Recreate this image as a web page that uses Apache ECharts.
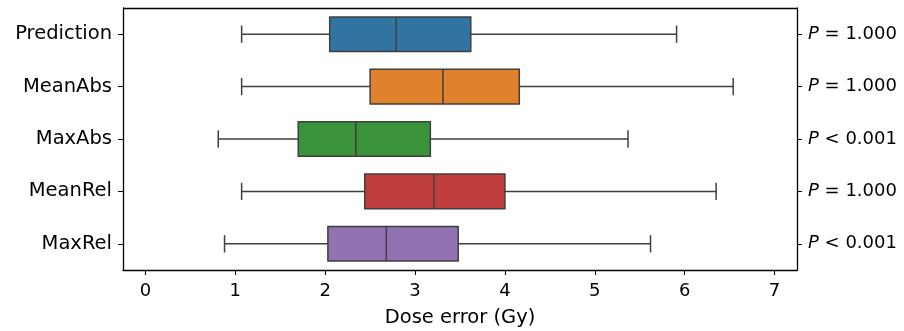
<!DOCTYPE html>
<html>
<head>
<meta charset="utf-8">
<script src="https://cdn.jsdelivr.net/npm/echarts@6/dist/echarts.min.js"></script>
<style>
html,body{margin:0;padding:0;background:#fff;}
#main{width:904px;height:331px;}
</style>
</head>
<body>
<div id="main"></div>
<script>
// 数据
var categories = ['Prediction', 'MeanAbs', 'MaxAbs', 'MeanRel', 'MaxRel'];
var pLabels = ['= 1.000', '= 1.000', '< 0.001', '= 1.000', '< 0.001'];
var whiskerLow = [1.07, 1.07, 0.81, 1.07, 0.88];
var q1 = [2.05, 2.50, 1.70, 2.44, 2.03];
var median = [2.79, 3.31, 2.34, 3.21, 2.68];
var q3 = [3.62, 4.16, 3.17, 4.00, 3.48];
var whiskerHigh = [5.91, 6.54, 5.37, 6.35, 5.62];
var xTicks = [0, 1, 2, 3, 4, 5, 6, 7];
var colors = ['#3274a1', '#e1812c', '#3a923a', '#c03d3e', '#9372b2'];

var edge = '#3f3f3f';
var font = "'DejaVu Sans'";
var fs = 18;

var boxData = categories.map(function (c, i) {
    return [i, whiskerLow[i], q1[i], median[i], q3[i], whiskerHigh[i]];
});

// 画箱线 (seaborn 风格, 端帽为箱宽一半)
function renderBox(params, api) {
    var i = api.value(0);
    var band = api.size([0, 1])[1];
    var h = band * 0.66;
    var cy = api.coord([0, i])[1];
    var xLo = api.coord([api.value(1), i])[0];
    var xQ1 = api.coord([api.value(2), i])[0];
    var xMed = api.coord([api.value(3), i])[0];
    var xQ3 = api.coord([api.value(4), i])[0];
    var xHi = api.coord([api.value(5), i])[0];
    var ls = {stroke: edge, lineWidth: 1.5};
    return {
        type: 'group',
        children: [
            {type: 'line', shape: {x1: xLo, y1: cy, x2: xQ1, y2: cy}, style: ls},
            {type: 'line', shape: {x1: xQ3, y1: cy, x2: xHi, y2: cy}, style: ls},
            {type: 'line', shape: {x1: xLo, y1: cy - h / 4, x2: xLo, y2: cy + h / 4}, style: ls},
            {type: 'line', shape: {x1: xHi, y1: cy - h / 4, x2: xHi, y2: cy + h / 4}, style: ls},
            {type: 'rect', shape: {x: xQ1, y: cy - h / 2, width: xQ3 - xQ1, height: h},
             style: {fill: colors[i], stroke: edge, lineWidth: 1.5}},
            {type: 'line', shape: {x1: xMed, y1: cy - h / 2, x2: xMed, y2: cy + h / 2}, style: ls}
        ]
    };
}

var myChart = echarts.init(document.getElementById('main'), null, {renderer: 'canvas'});
var option = {
    animation: false,
    backgroundColor: '#fff',
    grid: {left: 123, right: 107, top: 8, bottom: 61, containLabel: false, outerBoundsMode: 'none'},
    xAxis: {
        type: 'value',
        min: -0.25,
        max: 7.25,
        name: 'Dose error (Gy)',
        nameLocation: 'middle',
        nameGap: 38,
        nameTextStyle: {fontFamily: font, fontSize: 19.5, color: '#000'},
        splitLine: {show: false},
        axisLine: {show: true, onZero: false, lineStyle: {color: '#000', width: 1.3}},
        axisTick: {show: true, length: 5, lineStyle: {color: '#000', width: 1}, customValues: xTicks},
        axisLabel: {fontFamily: font, fontSize: fs, color: '#000', margin: 12, customValues: xTicks}
    },
    yAxis: [{
        type: 'category',
        data: categories,
        inverse: true,
        position: 'left',
        axisLine: {show: true, onZero: false, lineStyle: {color: '#000', width: 1.3}},
        axisTick: {show: true, alignWithLabel: true, length: 5, lineStyle: {color: '#000', width: 1}},
        axisLabel: {fontFamily: font, fontSize: 19.5, color: '#000', margin: 11},
        splitLine: {show: false}
    }, {
        type: 'category',
        data: pLabels,
        inverse: true,
        position: 'right',
        axisLine: {show: true, onZero: false, lineStyle: {color: '#000', width: 1.3}},
        axisTick: {show: true, alignWithLabel: true, length: 5, lineStyle: {color: '#000', width: 1}},
        axisLabel: {
            fontFamily: font, fontSize: fs, color: '#000', margin: 11,
            formatter: function (v) { return '{i|P} ' + v; },
            rich: {i: {fontFamily: font, fontSize: fs, fontStyle: 'italic', color: '#000'}}
        },
        splitLine: {show: false}
    }],
    series: [{
        type: 'custom',
        renderItem: renderBox,
        encode: {x: [1, 2, 3, 4, 5], y: 0},
        data: boxData
    }, {
        // 上边框
        type: 'line',
        data: [],
        markLine: {
            silent: true, symbol: 'none', label: {show: false},
            lineStyle: {color: '#000', width: 1.3, type: 'solid'},
            data: [[{x: 123, y: 8}, {x: 797, y: 8}]]
        }
    }]
};
myChart.setOption(option);
</script>
</body>
</html>
